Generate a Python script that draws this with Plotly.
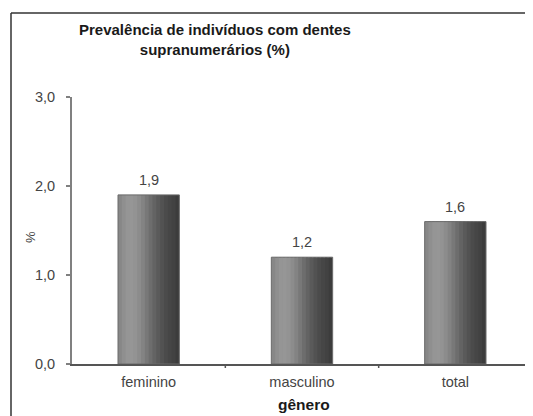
import plotly.graph_objects as go

categories = ["feminino", "masculino", "total"]
values = [1.9, 1.2, 1.6]
value_labels = ["1,9", "1,2", "1,6"]
y_ticks = [0, 1, 2, 3]
y_tick_labels = ["0,0", "1,0", "2,0", "3,0"]

# gradient shades, left (light) -> right (dark)
shades = ["#878787", "#8f8f8f", "#959595", "#969696", "#939393", "#8c8c8c",
          "#838383", "#787878", "#6d6d6d", "#636363", "#5a5a5a", "#525252",
          "#4b4b4b", "#464646", "#424242", "#3c3c3c"]
bar_w = 0.4
n = len(shades)
sw = bar_w / n

FONT = "Liberation Sans, Arial, sans-serif"
W, H = 525, 408          # page body has an 8px margin
L, T = 64, 89            # plot area (figure px)
PW, PH = 460, 267


def px(sx):   # screen x -> paper x
    return (sx - 72) / PW


def py(sy):   # screen y -> paper y
    return (364 - sy) / PH


fig = go.Figure()
x_idx = list(range(len(categories)))
for i, c in enumerate(shades):
    w = sw if i == n - 1 else sw * 1.6
    fig.add_trace(go.Bar(
        x=x_idx, y=values, width=[w] * len(values),
        offset=-bar_w / 2 + i * sw,
        marker=dict(color=c, line=dict(width=0)),
        showlegend=False, hoverinfo="skip"))
# outline
fig.add_trace(go.Bar(
    x=x_idx, y=values, width=[bar_w] * len(values),
    marker=dict(color="rgba(0,0,0,0)", line=dict(width=1, color="#6a6a6a")),
    showlegend=False, hoverinfo="skip"))

fig.update_layout(
    width=W, height=H,
    margin=dict(l=L, r=W - L - PW, t=T, b=H - T - PH),
    barmode="overlay",
    paper_bgcolor="white", plot_bgcolor="white",
    font=dict(family=FONT, size=14.5, color="#444444"),
    xaxis=dict(range=[-0.5, 2.5], tickvals=x_idx, ticktext=categories,
               showgrid=False, zeroline=False, showline=True, linecolor="#555555",
               linewidth=1.5, ticks="", ticklabelstandoff=4,
               tickfont=dict(family=FONT, size=14.5, color="#444444")),
    yaxis=dict(range=[0, 3], tickvals=y_ticks, ticktext=y_tick_labels,
               showgrid=False, zeroline=False, showline=True, linecolor="#808080",
               linewidth=2, ticks="outside", ticklen=4, tickcolor="#808080",
               tickwidth=1.5, ticklabelstandoff=8,
               tickfont=dict(family=FONT, size=14.5, color="#444444")),
    showlegend=False,
)
# value labels above bars
for xi, v, lab in zip(x_idx, values, value_labels):
    fig.add_annotation(x=xi, y=v, text=lab, showarrow=False, xanchor="center",
                       yanchor="bottom", yshift=5,
                       font=dict(family=FONT, size=14.5, color="#444444"))
# category boundary ticks on x axis
for b in [0.5, 1.5, 2.5]:
    fig.add_shape(type="line", xref="x", yref="paper", x0=b, x1=b, y0=0, y1=-4 / PH,
                  line=dict(color="#555555", width=1.5))
# frame around chart (left and top edges; right/bottom fall outside the picture)
fig.add_shape(type="line", xref="paper", yref="paper",
              x0=px(11), x1=px(11), y0=py(430), y1=py(13),
              line=dict(color="#333333", width=1.5), layer="above")
fig.add_shape(type="line", xref="paper", yref="paper",
              x0=px(11), x1=px(560), y0=py(13), y1=py(13),
              line=dict(color="#333333", width=1.5), layer="above")
# title
fig.add_annotation(text="<b>Prevalência de indivíduos com dentes<br>supranumerários (%)</b>",
                   xref="paper", yref="paper", align="center",
                   x=px(215), y=py(39.5), xanchor="center", yanchor="middle", showarrow=False,
                   font=dict(family=FONT, size=15, color="#1a1a1a"))
# axis titles
fig.add_annotation(text="%", xref="paper", yref="paper",
                   x=px(30), y=py(237), xanchor="center", yanchor="middle", showarrow=False,
                   textangle=-90, font=dict(family=FONT, size=13, color="#444444"))
fig.add_annotation(text="<b>gênero</b>", xref="paper", yref="paper",
                   x=px(304), y=py(404), xanchor="center", yanchor="middle", showarrow=False,
                   font=dict(family=FONT, size=15.5, color="#1a1a1a"))

fig.write_html("out.html")
